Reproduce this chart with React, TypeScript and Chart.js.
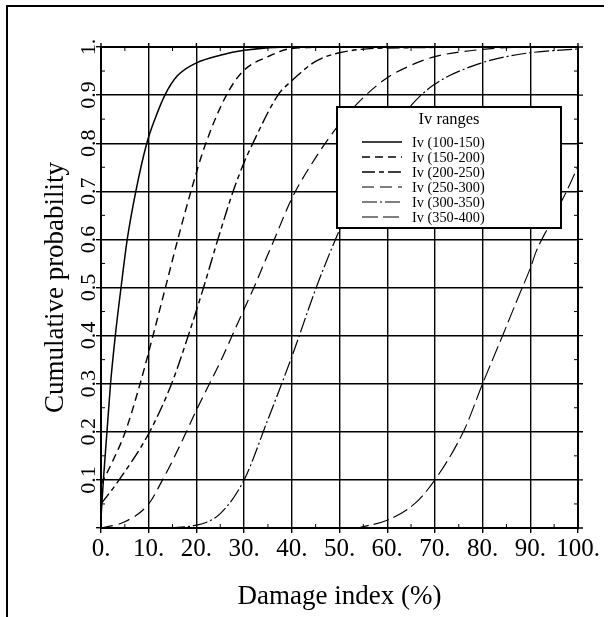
import React, { useEffect, useRef } from "react";
import { Chart, registerables } from "chart.js";

Chart.register(...registerables);

const seriesLabels = [
  "Iv (100-150)",
  "Iv (150-200)",
  "Iv (200-250)",
  "Iv (250-300)",
  "Iv (300-350)",
  "Iv (350-400)",
];

const c1X = [0, 0.5, 1.25, 2, 3, 4.2, 5.5, 7.3, 9.6, 11.3, 13.4, 16, 20, 25, 30, 40, 100];
const c1Y = [0.02, 0.1, 0.2, 0.3, 0.4, 0.5, 0.6, 0.7, 0.8, 0.85, 0.9, 0.94, 0.967, 0.983, 0.993, 1.0, 1.0];

const c2X = [0, 2.5, 5.1, 8.2, 10.9, 13.9, 16.1, 19, 21.8, 26.3, 29.8, 35, 40, 50, 100];
const c2Y = [0.09, 0.14, 0.2, 0.3, 0.4, 0.515, 0.6, 0.705, 0.795, 0.9, 0.95, 0.98, 0.997, 1.0, 1.0];

const c3X = [0, 3.8, 10.2, 14.8, 18.3, 21.5, 24.5, 27.7, 30, 31.6, 37.1, 40, 45, 50, 60, 100];
const c3Y = [0.05, 0.1, 0.2, 0.3, 0.4, 0.5, 0.6, 0.7, 0.76, 0.795, 0.9, 0.93, 0.97, 0.988, 0.998, 1.0];

const c4X = [0, 5, 10, 12.9, 15, 17.9, 20, 22.5, 25, 27.5, 30, 32.2, 34.4, 36, 40, 45, 50, 55, 60, 65, 70, 80, 90, 100];
const c4Y = [0, 0.013, 0.05, 0.1, 0.14, 0.2, 0.245, 0.295, 0.345, 0.4, 0.455, 0.503, 0.555, 0.592, 0.685, 0.77, 0.84, 0.895, 0.936, 0.962, 0.98, 0.995, 1.0, 1.0];

const c5X = [0, 11.7, 20, 25, 30, 34.7, 40, 45.2, 50, 55, 60, 64.8, 69.7, 79.5, 89.2, 100];
const c5Y = [0, 0, 0.006, 0.03, 0.1, 0.218, 0.356, 0.502, 0.62, 0.73, 0.81, 0.876, 0.921, 0.966, 0.987, 0.996];

const c6X = [0, 53.6, 55, 60, 65.7, 70, 76.2, 80, 84.4, 87.9, 90, 91.2, 94, 97.6, 100];
const c6Y = [0, 0, 0.003, 0.016, 0.05, 0.1, 0.205, 0.3, 0.405, 0.49, 0.54, 0.574, 0.63, 0.7, 0.752];

const seriesX = [c1X, c2X, c3X, c4X, c5X, c6X];
const seriesY = [c1Y, c2Y, c3Y, c4Y, c5Y, c6Y];

const dashes: number[][] = [[], [8, 5], [13, 4, 5, 4], [12, 6], [15, 3, 2, 3], [16, 5]];
const widths = [1.5, 1.4, 1.4, 1.2, 1.2, 1.1];

const legendTitle = "Iv ranges";
const xTitle = "Damage index (%)";
const yTitle = "Cumulative probability";

const SERIF = "'Liberation Serif', 'Times New Roman', 'DejaVu Serif', serif";

const framePlugin = {
  id: "framePlugin",
  beforeDraw(chart: any) {
    const ctx = chart.ctx;
    ctx.save();
    ctx.fillStyle = "#fff";
    ctx.fillRect(0, 0, chart.width, chart.height);
    ctx.strokeStyle = "#000";
    ctx.lineWidth = 2;
    ctx.beginPath();
    ctx.moveTo(7, 617);
    ctx.lineTo(7, 6);
    ctx.lineTo(604, 6);
    ctx.stroke();
    ctx.restore();
  },
  afterDatasetsDraw(chart: any) {
    const ctx = chart.ctx;
    const { left, right, top, bottom } = chart.chartArea;
    const xs = chart.scales.x;
    const ys = chart.scales.y;
    ctx.save();
    ctx.strokeStyle = "#000";
    ctx.lineWidth = 2;
    ctx.strokeRect(left, top, right - left, bottom - top);
    ctx.lineWidth = 1.4;
    ctx.beginPath();
    for (let v = 0; v <= 100; v += 10) {
      const px = xs.getPixelForValue(v);
      ctx.moveTo(px, top);
      ctx.lineTo(px, top - 4);
    }
    for (let i = 0; i <= 10; i++) {
      const py = ys.getPixelForValue(i / 10);
      ctx.moveTo(right, py);
      ctx.lineTo(right + 5, py);
    }
    ctx.stroke();
    ctx.lineWidth = 1;
    ctx.beginPath();
    for (let v = 5; v < 100; v += 10) {
      const px = xs.getPixelForValue(v);
      ctx.moveTo(px, bottom);
      ctx.lineTo(px, bottom - 4);
      ctx.moveTo(px, top);
      ctx.lineTo(px, top + 4);
    }
    for (let i = 0; i < 10; i++) {
      const py = ys.getPixelForValue(i / 10 + 0.05);
      ctx.moveTo(left, py);
      ctx.lineTo(left + 4, py);
      ctx.moveTo(right, py);
      ctx.lineTo(right - 4, py);
    }
    ctx.stroke();

    const bx = left + 236;
    const by = top + 60;
    const bw = 224;
    const bh = 121;
    ctx.fillStyle = "#fff";
    ctx.fillRect(bx, by, bw, bh);
    ctx.lineWidth = 2;
    ctx.strokeRect(bx, by, bw, bh);
    ctx.fillStyle = "#000";
    ctx.font = `16.5px ${SERIF}`;
    ctx.textAlign = "center";
    ctx.textBaseline = "middle";
    ctx.fillText(legendTitle, bx + 112, by + 13);
    ctx.textAlign = "left";
    ctx.font = `14.3px ${SERIF}`;
    chart.data.datasets.forEach((ds: any, i: number) => {
      const ly = by + 35 + i * 15;
      ctx.save();
      ctx.lineWidth = ds.borderWidth;
      ctx.setLineDash(ds.borderDash || []);
      ctx.beginPath();
      ctx.moveTo(bx + 25, ly);
      ctx.lineTo(bx + 65, ly);
      ctx.stroke();
      ctx.restore();
      ctx.fillText(ds.label, bx + 75, ly + 1);
    });
    ctx.restore();
  },
};

export default function App() {
  const ref = useRef<HTMLCanvasElement | null>(null);
  useEffect(() => {
    if (!ref.current) return;
    const datasets = seriesLabels.map((label, i) => ({
      label,
      data: seriesX[i].map((x, j) => ({ x, y: seriesY[i][j] })),
      borderColor: "#000",
      backgroundColor: "#000",
      borderWidth: widths[i],
      borderDash: dashes[i],
      pointRadius: 0,
      fill: false,
      cubicInterpolationMode: "monotone" as const,
    }));
    const chart = new Chart(ref.current, {
      type: "line",
      data: { datasets },
      options: {
        animation: false,
        responsive: false,
        devicePixelRatio: 1,
        layout: { padding: { left: 0, right: 33, top: 47, bottom: 0 } },
        plugins: { legend: { display: false }, tooltip: { enabled: false } },
        scales: {
          x: {
            type: "linear",
            min: 0,
            max: 100,
            afterFit: (s: any) => {
              s.height = 89;
            },
            ticks: {
              stepSize: 10,
              autoSkip: false,
              color: "#000",
              font: { family: SERIF, size: 25 },
              padding: 1,
              minRotation: 0,
              maxRotation: 0,
              callback: (v: any) => `${Math.round(Number(v))}.`,
            },
            grid: { color: "#000", lineWidth: 1.4, tickLength: 5, drawTicks: true },
            border: { display: true, color: "#000", width: 2 },
            title: {
              display: true,
              text: xTitle,
              color: "#000",
              font: { family: SERIF, size: 27 },
              padding: { top: 0, bottom: 4 },
            },
          },
          y: {
            type: "linear",
            min: 0,
            max: 1,
            afterFit: (s: any) => {
              s.width = 101;
            },
            ticks: {
              stepSize: 0.1,
              autoSkip: false,
              color: "#000",
              font: { family: SERIF, size: 22 },
              minRotation: 90,
              maxRotation: 90,
              crossAlign: "center",
              padding: -7,
              callback: (v: any) => {
                const r = Math.round(Number(v) * 10) / 10;
                if (r === 0) return "";
                if (r === 1) return "1.";
                return r.toFixed(1);
              },
            },
            grid: { color: "#000", lineWidth: 1.4, tickLength: 5, drawTicks: true },
            border: { display: true, color: "#000", width: 2 },
            title: {
              display: true,
              text: yTitle,
              color: "#000",
              font: { family: SERIF, size: 27 },
              padding: { top: 40, bottom: 0 },
            },
          },
        },
      },
      plugins: [framePlugin],
    });
    return () => chart.destroy();
  }, []);
  return (
    <div style={{ position: "absolute", left: 0, top: 0, width: 611, height: 617 }}>
      <canvas ref={ref} width={611} height={617} style={{ width: 611, height: 617, display: "block" }} />
    </div>
  );
}
